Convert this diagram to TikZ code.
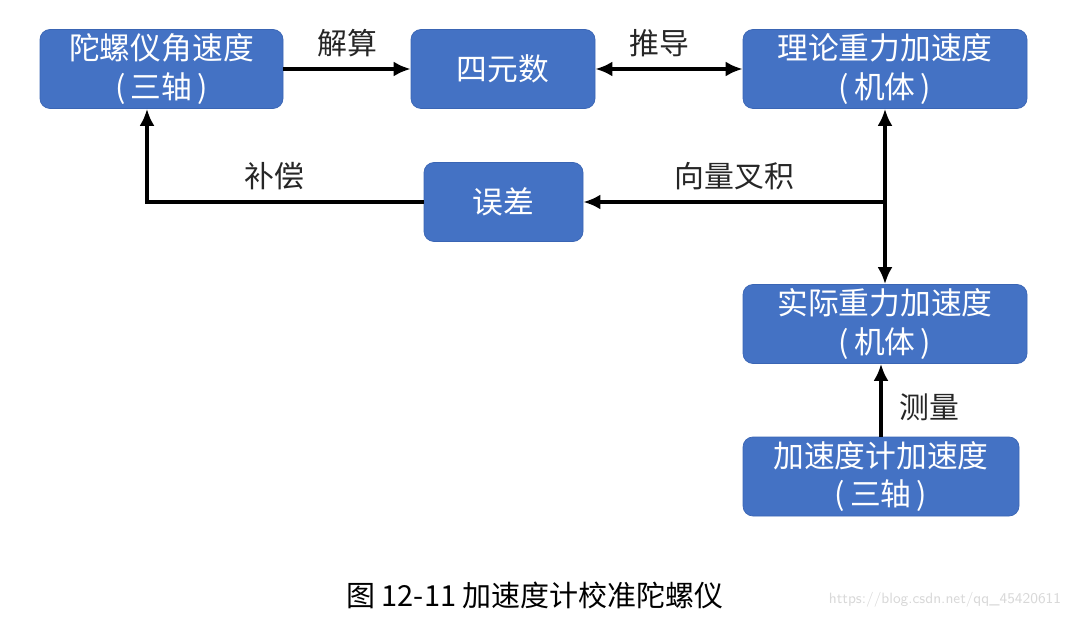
\documentclass[tikz,border=0pt]{standalone}
\usepackage{fontspec}
\newfontfamily\cjk{Noto Sans CJK SC}
\usepackage{tikz}
\usetikzlibrary{arrows.meta}
\definecolor{boxblue}{HTML}{4472C4}
\definecolor{boxedge}{HTML}{3A65B4}
\definecolor{marktext}{HTML}{D8D8D8}
\tikzset{
    >={Latex[length=3.4mm,width=3mm]},
    blockbox/.style={draw=boxedge, fill=boxblue, rounded corners=0.2cm, text=white,
        align=center, minimum height=1.58cm, inner sep=0pt,
        font=\cjk\fontsize{17.5}{22}\selectfont},
    flow/.style={line width=2.6pt, black},
    flowtext/.style={text=black!85, font=\cjk\fontsize{17}{20}\selectfont}}

\begin{document}
\begin{tikzpicture}

    \useasboundingbox (0,0) rectangle (21.48,12.38);

    \node[blockbox, minimum width=4.86cm] (gyro) at (3.23,11.0) {陀螺仪角速度\\(\,三轴\,)};
    \node[blockbox, minimum width=3.68cm] (quat) at (10.06,11.0) {四元数};
    \node[blockbox, minimum width=5.68cm] (theory) at (17.7,11.0) {理论重力加速度\\(\,机体\,)};
    \node[blockbox, minimum width=3.18cm] (err) at (10.07,8.34) {误差};
    \node[blockbox, minimum width=5.68cm] (actual) at (17.7,5.9) {实际重力加速度\\(\,机体\,)};
    \node[blockbox, minimum width=5.52cm] (accel) at (17.62,2.85) {加速度计加速度\\(\,三轴\,)};

    \coordinate (cross) at (theory.south |- err);
    \coordinate (gyroin) at ([xshift=-0.29cm]gyro.south);

    \draw[flow, ->] (gyro) -- (quat) node[midway, above, flowtext, yshift=2pt] {解算};
    \draw[flow, <->] (quat) -- (theory) node[midway, above, flowtext, yshift=2pt, xshift=-0.2cm] {推导};
    \draw[flow, <->] (theory) -- (actual);
    \draw[flow, ->] (cross) -- (err) node[midway, above, flowtext, yshift=2pt] {向量叉积};
    \draw[flow, ->] (err.west) -| (gyroin) node[pos=0.27, above, flowtext, yshift=2pt] {补偿};
    \draw[flow, ->] (accel) -- (accel |- actual.south) node[midway, right, flowtext, xshift=0.2cm, yshift=-0.15cm] {测量};

    \node[font=\cjk\fontsize{16.5}{20}\selectfont] (caption) at (10.7,0.48) {图 12-11 加速度计校准陀螺仪};
    \node[text=marktext, font=\sffamily\fontsize{8.5}{10}\selectfont] (mark) at (18.9,0.38) {https://blog.csdn.net/qq\_45420611};

\end{tikzpicture}
\end{document}
